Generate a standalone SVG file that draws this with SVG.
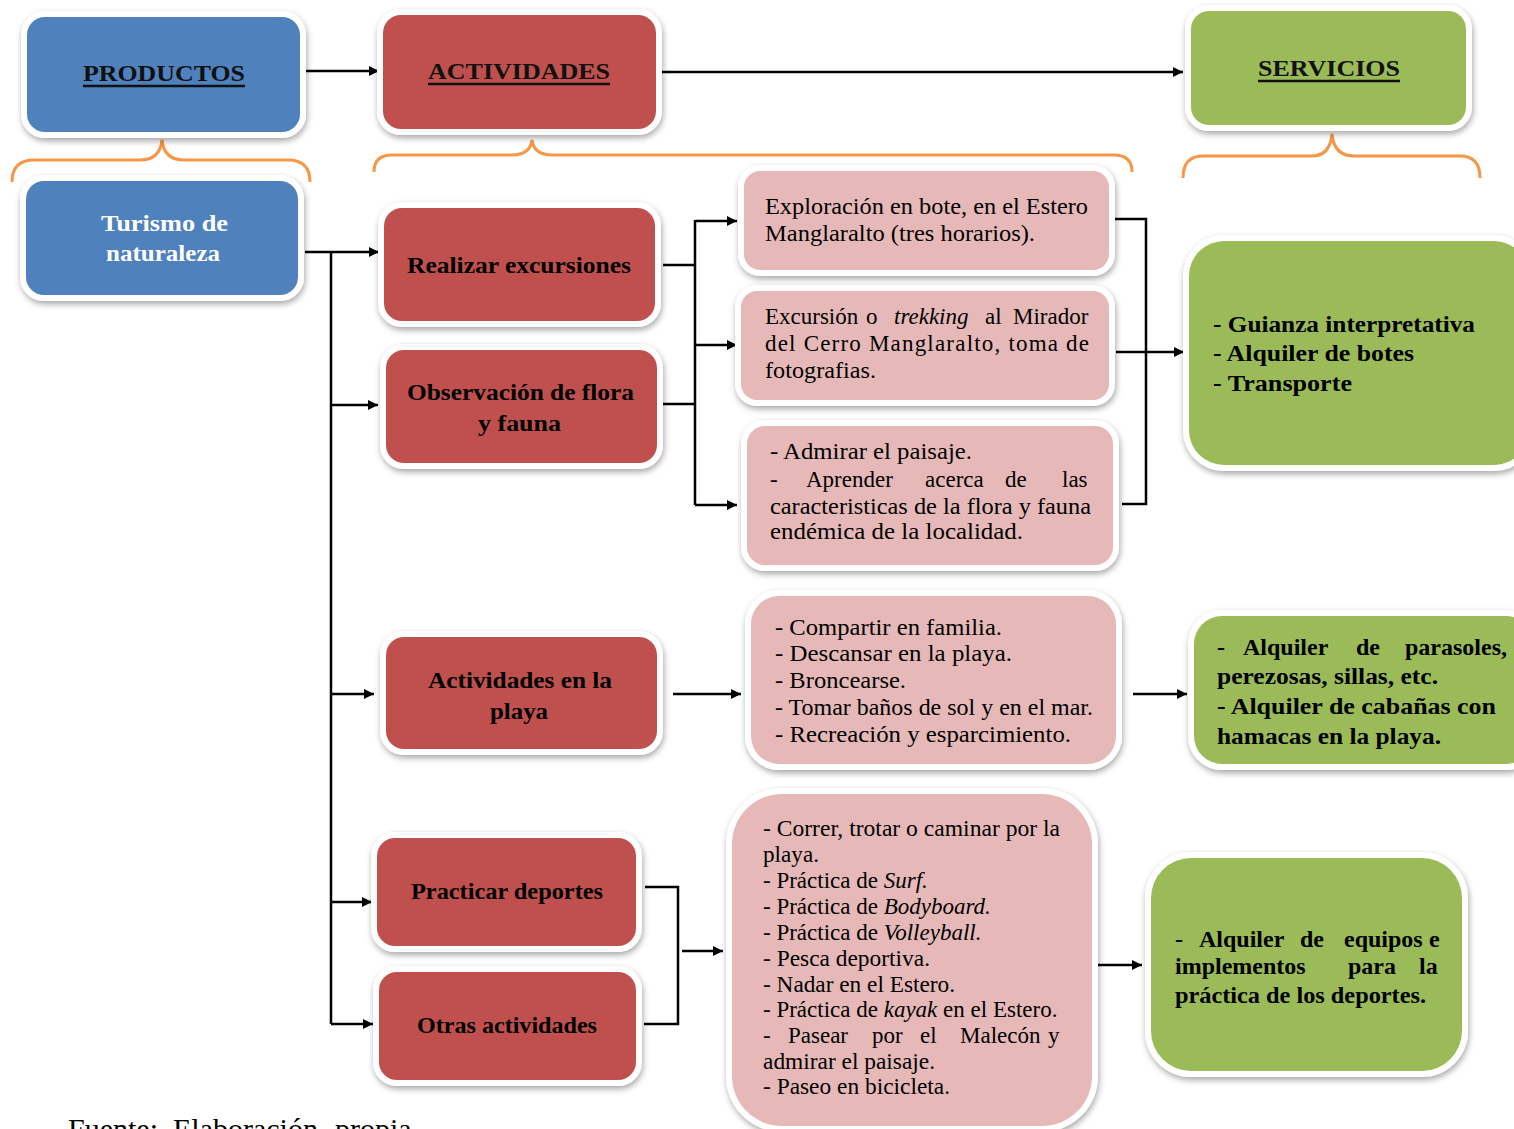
<svg xmlns="http://www.w3.org/2000/svg" width="1514" height="1129" viewBox="0 0 1514 1129">
<defs>
<filter id="sh" x="-10%" y="-10%" width="120%" height="125%">
<feDropShadow dx="1" dy="3" stdDeviation="3" flood-color="#000" flood-opacity="0.35"/>
</filter>
<marker id="ah" viewBox="0 0 10 10" refX="10" refY="5" markerWidth="11" markerHeight="10" markerUnits="userSpaceOnUse" orient="auto">
<path d="M0,0 L10,5 L0,10 Z" fill="#000"/>
</marker>
<style>
.o{fill:#fff;filter:url(#sh)}
.blue{fill:#4f81bd}.red{fill:#c0504d}.pink{fill:#e6b9b8}.green{fill:#9bbb59}
.c{stroke:#000;stroke-width:2.5;fill:none}
.a{marker-end:url(#ah)}
.brace{stroke:#f79646;stroke-width:3;fill:none}
text{font-family:"Liberation Serif","Times New Roman",serif;fill:#000}
.h{font-size:24px;font-weight:bold;fill:#111}
.ul{stroke:#111;stroke-width:2.5}
.w{font-size:24px;font-weight:bold;fill:#fff}
.r{font-size:24px;font-weight:bold}
.p{font-size:23px}
.g{font-size:24px;font-weight:bold}
.i{font-style:italic}
</style>
</defs>

<g id="braces">
<path class="brace" d="M12,182 Q12,160 34,160 L140,160 Q160,160 162,140 Q164,160 184,160 L288,160 Q310,160 310,182"/>
<path class="brace" d="M374,172 Q374,155 392,155 L512,155 Q530,155 532,140 Q534,155 552,155 L1114,155 Q1132,155 1132,172"/>
<path class="brace" d="M1183,178 Q1183,156 1203,156 L1312,156 Q1330,156 1332,134 Q1334,156 1354,156 L1460,156 Q1480,156 1480,178"/>
</g>

<g id="connectors">
<path class="c a" d="M305,71 L379,71"/>
<path class="c a" d="M662,72 L1183,72"/>
<path class="c a" d="M305,252 L379,252"/>
<path class="c" d="M331,252 L331,1024"/>
<path class="c a" d="M331,405 L378,405"/>
<path class="c a" d="M331,694 L374,694"/>
<path class="c a" d="M331,902 L372,902"/>
<path class="c a" d="M331,1024 L373,1024"/>
<path class="c" d="M663,265 L695,265 M662,404 L695,404 M695,220 L695,505"/>
<path class="c a" d="M695,221 L737,221"/>
<path class="c a" d="M695,345 L737,345"/>
<path class="c a" d="M695,505 L737,505"/>
<path class="c" d="M1112,219 L1146,219 L1146,504 L1122,504"/>
<path class="c a" d="M1116,352 L1184,352"/>
<path class="c a" d="M673,694 L741,694"/>
<path class="c a" d="M1133,694 L1187,694"/>
<path class="c" d="M645,887 L678,887 L678,1024 L644,1024"/>
<path class="c a" d="M682,951 L723,951"/>
<path class="c a" d="M1090,965 L1142,965"/>
</g>

<g id="productos">
<rect class="o" x="21" y="11" width="285" height="127" rx="24"/>
<rect class="blue" x="27" y="17" width="273" height="115" rx="18"/>
<text class="h" x="83" y="81" textLength="162" lengthAdjust="spacingAndGlyphs">PRODUCTOS</text>
<line class="ul" x1="83" y1="86" x2="245" y2="86"/>
</g>

<g id="actividades">
<rect class="o" x="377" y="9" width="285" height="126" rx="24"/>
<rect class="red" x="383" y="15" width="273" height="114" rx="18"/>
<text class="h" x="428" y="79" textLength="182" lengthAdjust="spacingAndGlyphs">ACTIVIDADES</text>
<line class="ul" x1="428" y1="84" x2="610" y2="84"/>
</g>

<g id="servicios">
<rect class="o" x="1185" y="5" width="287" height="126" rx="24"/>
<rect class="green" x="1191" y="11" width="275" height="114" rx="18"/>
<text class="h" x="1258" y="76" textLength="142" lengthAdjust="spacingAndGlyphs">SERVICIOS</text>
<line class="ul" x1="1258" y1="81" x2="1400" y2="81"/>
</g>

<g id="turismo">
<rect class="o" x="20" y="175" width="284" height="126" rx="24"/>
<rect class="blue" x="26" y="181" width="272" height="114" rx="18"/>
<text class="w" x="101" y="231" textLength="127" lengthAdjust="spacingAndGlyphs">Turismo de</text>
<text class="w" x="106" y="261" textLength="114" lengthAdjust="spacingAndGlyphs">naturaleza</text>
</g>

<g id="realizar">
<rect class="o" x="378" y="202" width="283" height="125" rx="24"/>
<rect class="red" x="384" y="208" width="271" height="113" rx="18"/>
<text class="r" x="407" y="273" textLength="224" lengthAdjust="spacingAndGlyphs">Realizar excursiones</text>
</g>

<g id="observacion">
<rect class="o" x="380" y="344" width="283" height="125" rx="24"/>
<rect class="red" x="386" y="350" width="271" height="113" rx="18"/>
<text class="r" x="407" y="400" textLength="227" lengthAdjust="spacingAndGlyphs">Observación de flora</text>
<text class="r" x="478" y="431" textLength="83" lengthAdjust="spacingAndGlyphs">y fauna</text>
</g>

<g id="playa">
<rect class="o" x="380" y="631" width="283" height="124" rx="24"/>
<rect class="red" x="386" y="637" width="271" height="112" rx="18"/>
<text class="r" x="428" y="688" textLength="184" lengthAdjust="spacingAndGlyphs">Actividades en la</text>
<text class="r" x="490" y="719" textLength="58" lengthAdjust="spacingAndGlyphs">playa</text>
</g>

<g id="deportes">
<rect class="o" x="371" y="832" width="271" height="120" rx="24"/>
<rect class="red" x="377" y="838" width="259" height="108" rx="18"/>
<text class="r" x="411" y="899" textLength="192" lengthAdjust="spacingAndGlyphs">Practicar deportes</text>
</g>

<g id="otras">
<rect class="o" x="373" y="966" width="269" height="120" rx="24"/>
<rect class="red" x="379" y="972" width="257" height="108" rx="18"/>
<text class="r" x="417" y="1033" textLength="180" lengthAdjust="spacingAndGlyphs">Otras actividades</text>
</g>

<g id="exploracion">
<rect class="o" x="738" y="165" width="377" height="111" rx="22"/>
<rect class="pink" x="744" y="171" width="365" height="99" rx="16"/>
<text class="p" x="765" y="214" textLength="323" lengthAdjust="spacingAndGlyphs">Exploración en bote, en el Estero</text>
<text class="p" x="765" y="241" textLength="270" lengthAdjust="spacingAndGlyphs">Manglaralto (tres horarios).</text>
</g>

<g id="trekking">
<rect class="o" x="735" y="285" width="380" height="121" rx="22"/>
<rect class="pink" x="741" y="291" width="368" height="109" rx="16"/>
<text class="p" y="324"><tspan x="765">Excursión</tspan><tspan x="866">o</tspan><tspan x="894" class="i">trekking</tspan><tspan x="985">al</tspan><tspan x="1013">Mirador</tspan></text>
<text class="p" x="765" y="351" textLength="324" lengthAdjust="spacing">del Cerro Manglaralto, toma de</text>
<text class="p" x="765" y="378" textLength="111" lengthAdjust="spacingAndGlyphs">fotografias.</text>
</g>

<g id="admirar">
<rect class="o" x="741" y="420" width="378" height="151" rx="24"/>
<rect class="pink" x="747" y="426" width="366" height="139" rx="18"/>
<text class="p" x="770" y="459" textLength="202" lengthAdjust="spacingAndGlyphs">- Admirar el paisaje.</text>
<text class="p" y="487"><tspan x="770">-</tspan><tspan x="806">Aprender</tspan><tspan x="925">acerca</tspan><tspan x="1005">de</tspan><tspan x="1062">las</tspan></text>
<text class="p" x="770" y="514" textLength="321" lengthAdjust="spacingAndGlyphs">caracteristicas de la flora y fauna</text>
<text class="p" x="770" y="539" textLength="253" lengthAdjust="spacingAndGlyphs">endémica de la localidad.</text>
</g>

<g id="compartir">
<rect class="o" x="745" y="590" width="377" height="180" rx="34"/>
<rect class="pink" x="751" y="596" width="365" height="168" rx="28"/>
<text class="p" x="775" y="635" textLength="227" lengthAdjust="spacingAndGlyphs">- Compartir en familia.</text>
<text class="p" x="775" y="661" textLength="237" lengthAdjust="spacingAndGlyphs">- Descansar en la playa.</text>
<text class="p" x="775" y="688" textLength="131" lengthAdjust="spacingAndGlyphs">- Broncearse.</text>
<text class="p" x="775" y="715" textLength="318" lengthAdjust="spacingAndGlyphs">- Tomar baños de sol y en el mar.</text>
<text class="p" x="775" y="742" textLength="296" lengthAdjust="spacingAndGlyphs">- Recreación y esparcimiento.</text>
</g>

<g id="correr">
<rect class="o" x="726" y="788" width="372" height="344" rx="56"/>
<rect class="pink" x="732" y="794" width="360" height="332" rx="50"/>
<text class="p" x="763" y="836" textLength="297" lengthAdjust="spacingAndGlyphs">- Correr, trotar o caminar por la</text>
<text class="p" x="763" y="862" textLength="56" lengthAdjust="spacingAndGlyphs">playa.</text>
<text class="p" x="763" y="888">- Práctica de <tspan class="i">Surf.</tspan></text>
<text class="p" x="763" y="914">- Práctica de <tspan class="i">Bodyboard.</tspan></text>
<text class="p" x="763" y="940">- Práctica de <tspan class="i">Volleyball.</tspan></text>
<text class="p" x="763" y="966" textLength="167" lengthAdjust="spacingAndGlyphs">- Pesca deportiva.</text>
<text class="p" x="763" y="992" textLength="192" lengthAdjust="spacingAndGlyphs">- Nadar en el Estero.</text>
<text class="p" x="763" y="1017">- Práctica de <tspan class="i">kayak</tspan> en el Estero.</text>
<text class="p" y="1043"><tspan x="763">-</tspan><tspan x="788">Pasear</tspan><tspan x="872">por</tspan><tspan x="920">el</tspan><tspan x="960">Malecón</tspan><tspan x="1048">y</tspan></text>
<text class="p" x="763" y="1069" textLength="172" lengthAdjust="spacingAndGlyphs">admirar el paisaje.</text>
<text class="p" x="763" y="1094" textLength="187" lengthAdjust="spacingAndGlyphs">- Paseo en bicicleta.</text>
</g>

<g id="guianza">
<rect class="o" x="1183" y="235" width="352" height="236" rx="41"/>
<rect class="green" x="1189" y="241" width="340" height="224" rx="35"/>
<text class="g" x="1213" y="332" textLength="262" lengthAdjust="spacingAndGlyphs">- Guianza interpretativa</text>
<text class="g" x="1213" y="361" textLength="201" lengthAdjust="spacingAndGlyphs">- Alquiler de botes</text>
<text class="g" x="1213" y="391" textLength="139" lengthAdjust="spacingAndGlyphs">- Transporte</text>
</g>

<g id="parasoles">
<rect class="o" x="1188" y="610" width="352" height="160" rx="34"/>
<rect class="green" x="1194" y="616" width="340" height="148" rx="28"/>
<text class="g" y="655"><tspan x="1217">-</tspan><tspan x="1243">Alquiler</tspan><tspan x="1356">de</tspan><tspan x="1405">parasoles,</tspan></text>
<text class="g" x="1217" y="684" textLength="221" lengthAdjust="spacingAndGlyphs">perezosas, sillas, etc.</text>
<text class="g" x="1217" y="714" textLength="279" lengthAdjust="spacingAndGlyphs">- Alquiler de cabañas con</text>
<text class="g" x="1217" y="744" textLength="224" lengthAdjust="spacingAndGlyphs">hamacas en la playa.</text>
</g>

<g id="equipos">
<rect class="o" x="1145" y="852" width="323" height="225" rx="46"/>
<rect class="green" x="1151" y="858" width="311" height="213" rx="40"/>
<text class="g" y="947"><tspan x="1175">-</tspan><tspan x="1199">Alquiler</tspan><tspan x="1300">de</tspan><tspan x="1344">equipos</tspan><tspan x="1429">e</tspan></text>
<text class="g" y="974"><tspan x="1175">implementos</tspan><tspan x="1348">para</tspan><tspan x="1419">la</tspan></text>
<text class="g" x="1175" y="1003" textLength="251" lengthAdjust="spacingAndGlyphs">práctica de los deportes.</text>
</g>

<text y="1139" style="font-size:30px"><tspan x="68">Fuente:</tspan><tspan x="173">Elaboración</tspan><tspan x="335">propia</tspan></text>
</svg>
